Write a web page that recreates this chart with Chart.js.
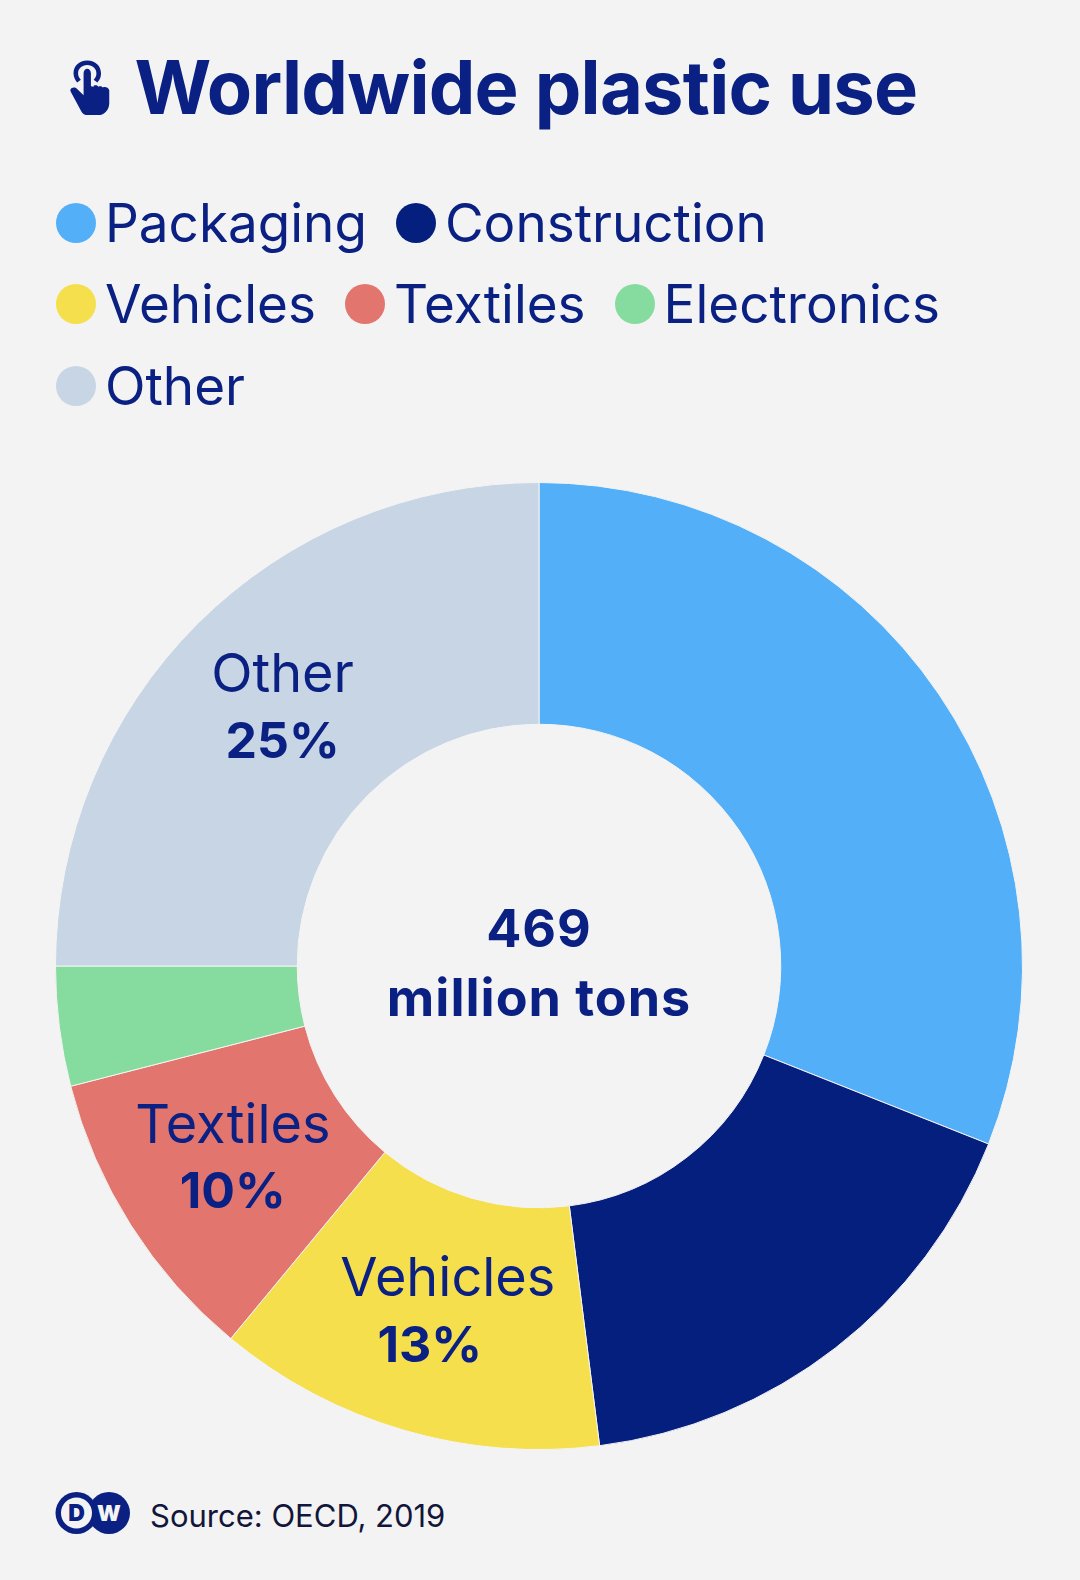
<!DOCTYPE html>
<html><head><meta charset="utf-8">
<script src="https://cdn.jsdelivr.net/npm/chart.js@4"></script>
<style>
html,body{margin:0;padding:0;background:#f3f3f3;width:1080px;height:1580px;overflow:hidden;font-family:Inter,sans-serif;}
#chart{position:absolute;left:0;top:466px;}
#title{position:absolute;left:134.500px;top:42px;font-size:74px;line-height:90px;font-weight:700;color:#0a2082;letter-spacing:-.75px;white-space:nowrap;}
#icon{position:absolute;left:68px;top:60px;width:44px;height:56px;}
.row{position:absolute;left:56px;height:60px;display:flex;align-items:center;white-space:nowrap;}
.item{display:flex;align-items:center;}
.dot{width:40px;height:40px;border-radius:50%;margin-right:9px;flex:none;}
.lab{font-size:53px;color:#0a2082;font-weight:400;}
#logo{position:absolute;left:55px;top:1491px;}
#source{position:absolute;left:150px;top:1496px;font-size:31px;line-height:40px;color:#12163a;white-space:nowrap;}
</style></head><body>
<svg id="icon" viewBox="0 0 48 60"><path fill="#0a2082" d="M21 0c-9 0-15 6-15 14 0 4 2 8 4 10l4-3c-2-2-3-4-3-7 0-5 4-9 10-9s10 4 10 9c0 3-1 5-3 7l4 3c3-3 4-6 4-10C36 6 30 0 21 0z"/><path fill="#0a2082" d="M17 14c0-3 2-5 4-5s4 2 4 5v14l3 .5v-1c2-1 4-.5 5 1 2-1 4-.5 5 1 2-1 6-.5 7 3v14c0 7-5 13-12 13H22c-4 0-6-1-8-5L3 34c-1-2 0-3 1-4 2-1 4-1 6 1l7 7z"/></svg>
<div id="title">Worldwide plastic use</div>
<div id="legend"></div>
<canvas id="chart" width="1080" height="1000"></canvas>
<svg id="logo" width="76" height="44" viewBox="0 0 76 44"><circle cx="54" cy="22" r="21" fill="#0a2082"/><circle cx="21.500" cy="22" r="21" fill="#0a2082"/><circle cx="21.500" cy="22" r="15.500" fill="#f3f3f3"/><text x="21.500" y="30" text-anchor="middle" font-family="Inter" font-weight="900" font-size="23" fill="#0a2082">D</text><text x="54" y="30" text-anchor="middle" font-family="Inter" font-weight="900" font-size="22" fill="#f3f3f3">W</text></svg>
<div id="source">Source: OECD, 2019</div>
<script>
const categories=['Packaging','Construction','Vehicles','Textiles','Electronics','Other'];
const shares=[31,17,13,10,4,25];
const colors=['#52aff8','#051f7e','#f5df4d','#e2766f','#86dc9f','#c7d5e5'];
const labelled=['Vehicles','Textiles','Other'];
const centerLines=['469','million tons'];
const legendRows=[[0,1],[2,3,4],[5]];
const legendTops=[193,274,356];
const legendGaps=[29,29,29];

const legend=document.getElementById('legend');
legendRows.forEach((row,r)=>{
  const d=document.createElement('div');d.className='row';d.style.top=legendTops[r]+'px';d.style.gap=legendGaps[r]+'px';
  row.forEach(i=>{
    const it=document.createElement('div');it.className='item';
    it.innerHTML='<span class="dot" style="background:'+colors[i]+'"></span><span class="lab">'+categories[i]+'</span>';
    d.appendChild(it);
  });
  legend.appendChild(d);
});

const ink='#0a2082';
const nudge={Vehicles:[10,-18],Textiles:[0,0],Other:[0,0]};
const sliceText={
  id:'sliceText',
  afterDatasetsDraw(chart){
    const ctx=chart.ctx,arcs=chart.getDatasetMeta(0).data;
    ctx.save();ctx.textAlign='center';ctx.textBaseline='middle';ctx.fillStyle=ink;
    categories.forEach((c,i)=>{
      if(!labelled.includes(c))return;
      const p=arcs[i].getCenterPoint();
      const n=nudge[c];
      ctx.font='400 54px Inter';
      ctx.fillText(c,p.x+n[0],p.y-34);
      ctx.font='700 50px Inter';
      ctx.fillText(shares[i]+'%',p.x+n[0]+n[1],p.y+33);
    });
    const a=arcs[0];
    ctx.font='700 52px Inter';
    ctx.letterSpacing='1px';
    ctx.fillText(centerLines[0],a.x,a.y-35);
    ctx.fillText(centerLines[1],a.x,a.y+34);
    ctx.restore();
  }
};
new Chart(document.getElementById('chart'),{
  type:'doughnut',
  data:{labels:categories,datasets:[{data:shares,backgroundColor:colors,borderColor:'#f3f3f3',borderWidth:1}]},
  options:{responsive:false,animation:false,devicePixelRatio:1,radius:483.5,cutout:'50%',
    layout:{padding:{right:2}},
    plugins:{legend:{display:false},tooltip:{enabled:false},title:{display:false}}},
  plugins:[sliceText]
});
</script>
</body></html>
